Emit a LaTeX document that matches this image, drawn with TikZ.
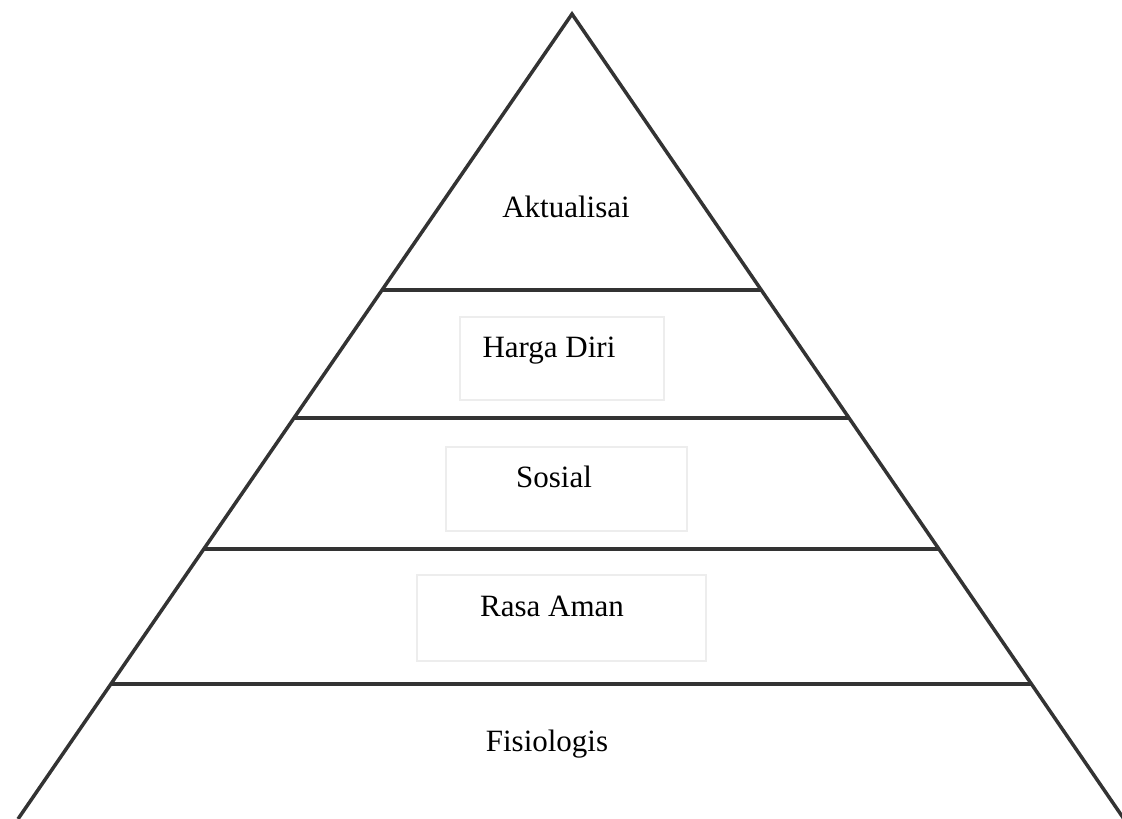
\documentclass[tikz,border=0pt]{standalone}
\usepackage{fontspec}
\setmainfont{Liberation Serif}
\usetikzlibrary{calc}
\definecolor{edge}{HTML}{333333}
\definecolor{boxgray}{HTML}{EDEDED}
\begin{document}
\begin{tikzpicture}[x=1pt,y=-1pt,
  side/.style={draw=edge,line width=3.5pt},
  tier/.style={draw=edge,line width=3.5pt},
  faintbox/.style={draw=boxgray,line width=1.5pt},
  label/.style={inner sep=0pt,anchor=base,font=\fontsize{31}{37}\selectfont}]
\useasboundingbox[fill=white] (0,0) rectangle (1122,819);
\coordinate (apex) at (572,14);
\coordinate (bl) at (18,819);
\coordinate (br) at (1124,819);
\draw[side] (bl) -- (apex) -- (br);
\foreach \t/\n in {0.3429/a,0.5019/b,0.6646/c,0.8323/d}{
  \coordinate (l\n) at ($(apex)!\t!(bl)$);
  \coordinate (r\n) at ($(apex)!\t!(br)$);
  \draw[tier] (l\n) -- (r\n);
}
\draw[faintbox] (460,317) rectangle (664,400);
\draw[faintbox] (446,447) rectangle (687,531);
\draw[faintbox] (417,575) rectangle (706,661);
\node[label] (akt) at (566,217) {Aktualisai};
\node[label] (hd) at (549,357) {Harga Diri};
\node[label] (sos) at (554,487) {Sosial};
\node[label] (ra) at (552,616) {Rasa Aman};
\node[label] (fis) at (547,751) {Fisiologis};
\end{tikzpicture}
\end{document}
